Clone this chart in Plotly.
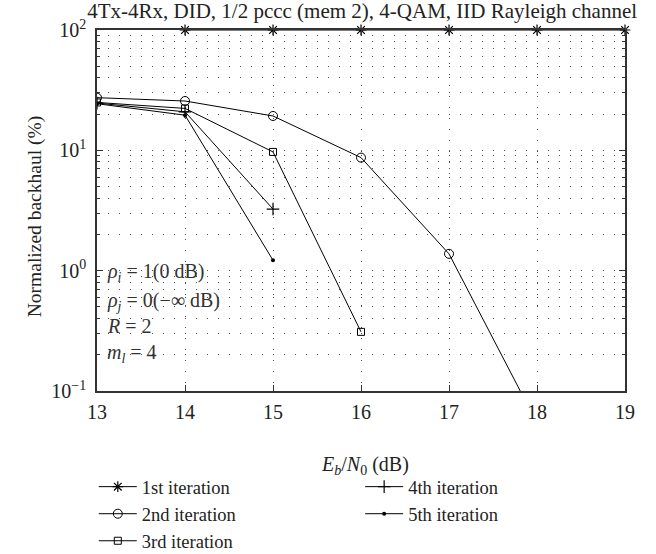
import plotly.graph_objects as go

x1 = [14, 15, 16, 17, 18, 19]
it1 = [100, 100, 100, 100, 100, 100]
x2 = [13, 14, 15, 16, 17, 18]
it2 = [27.4, 25.7, 19.3, 8.7, 1.38, 0.054]
x3 = [13, 14, 15, 16]
it3 = [25.0, 22.3, 9.7, 0.31]
x4 = [13, 14, 15]
it4 = [24.7, 20.9, 3.25]
x5 = [13, 14, 15]
it5 = [24.4, 19.6, 1.22]

names = ["1st iteration", "2nd iteration", "3rd iteration", "4th iteration", "5th iteration"]
ytickvals = [0.1, 1, 10, 100]
yticktext = ["10<sup>−1</sup>", "10<sup>0</sup>", "10<sup>1</sup>", "10<sup>2</sup>"]

FONT = "Liberation Serif"
TXT = "#222"
fig = go.Figure()
line = dict(color="black", width=1)

fig.add_trace(go.Scatter(x=x1, y=it1, name=names[0], mode="lines+markers", line=line,
                         marker=dict(symbol="asterisk-open", size=9, color="black", line=dict(width=1.2, color="black")),
                         cliponaxis=False, legend="legend"))
fig.add_trace(go.Scatter(x=x2, y=it2, name=names[1], mode="lines+markers", line=line,
                         marker=dict(symbol="circle-open", size=9, color="black", line=dict(width=1, color="black")),
                         legend="legend"))
fig.add_trace(go.Scatter(x=x3, y=it3, name=names[2], mode="lines+markers", line=line,
                         marker=dict(symbol="square-open", size=7, color="black", line=dict(width=1, color="black")),
                         legend="legend"))
fig.add_trace(go.Scatter(x=x4, y=it4, name=names[3], mode="lines+markers", line=line,
                         marker=dict(symbol="cross-thin-open", size=9, color="black", line=dict(width=1.2, color="black")),
                         legend="legend2"))
fig.add_trace(go.Scatter(x=x5, y=it5, name=names[4], mode="lines+markers", line=line,
                         marker=dict(symbol="circle", size=4, color="black"),
                         legend="legend2"))

grid = dict(gridcolor="#555", gridwidth=1, griddash="1px,10px")

fig.update_xaxes(range=[13, 19], dtick=1, tick0=13, showline=True, linecolor="#333", linewidth=1.5,
                 mirror="ticks", ticks="inside", ticklen=6, tickcolor="#333",
                 showgrid=True, zeroline=False, tickfont=dict(size=20, family=FONT, color=TXT),
                 ticklabelstandoff=2, **grid)
fig.update_yaxes(type="log", range=[-1, 2], tickvals=ytickvals, ticktext=yticktext,
                 showline=True, linecolor="#333", linewidth=1.5,
                 mirror="ticks", ticks="inside", ticklen=6, tickcolor="#333",
                 minor=dict(ticks="inside", ticklen=3, tickcolor="#333", showgrid=True,
                            gridcolor="#555", gridwidth=1, griddash="1px,10px", dtick="D1"),
                 showgrid=True, zeroline=False, tickfont=dict(size=20, family=FONT, color=TXT),
                 ticklabelstandoff=5, **grid)

# axis titles as annotations
fig.add_annotation(text="Normalized backhaul (%)", textangle=-90, xref="paper", yref="paper",
                   x=-0.117, y=0.482, xanchor="center", yanchor="middle", showarrow=False,
                   font=dict(size=19.5, family=FONT, color=TXT))
fig.add_annotation(text="<i>E<sub>b</sub></i>/<i>N</i><sub>0</sub> (dB)", xref="paper", yref="paper",
                   x=0.508, y=-0.205, xanchor="center", yanchor="middle", showarrow=False,
                   font=dict(size=20, family=FONT, color=TXT))

ann_font = dict(size=20, family=FONT, color="#333")
texts = ["<i>ρ<sub>i</sub></i> = 1(0 dB)", "<i>ρ<sub>j</sub></i> = 0(−∞ dB)", "<i>R</i> = 2", "<i>m<sub>l</sub></i> = 4"]
ys = [0.327, 0.247, 0.180, 0.103]
for t, yy in zip(texts, ys):
    fig.add_annotation(text=t, xref="paper", yref="paper", x=0.016, y=yy, xanchor="left", yanchor="middle",
                       showarrow=False, font=ann_font)

leg_common = dict(xref="container", yref="container", xanchor="left", yanchor="top",
                  font=dict(size=18.5, family=FONT, color=TXT), tracegroupgap=0, itemwidth=38,
                  bgcolor="rgba(0,0,0,0)")
fig.update_layout(
    width=656, height=554,
    margin=dict(l=97, r=31, t=30, b=163, autoexpand=False),
    paper_bgcolor="white", plot_bgcolor="white",
    font=dict(family=FONT, size=20, color=TXT),
    title=dict(text="4Tx-4Rx, DID, 1/2 pccc (mem 2), 4-QAM, IID Rayleigh channel",
               x=0.552, xanchor="center", xref="container", yref="container", y=0.981, yanchor="middle",
               font=dict(size=21, family=FONT, color=TXT)),
    legend=dict(x=0.143, y=0.155, **leg_common),
    legend2=dict(x=0.549, y=0.155, **leg_common),
)

fig.write_html("out.html", config={"displayModeBar": False},
               post_script="document.body.style.margin='0';document.body.style.padding='0';")
